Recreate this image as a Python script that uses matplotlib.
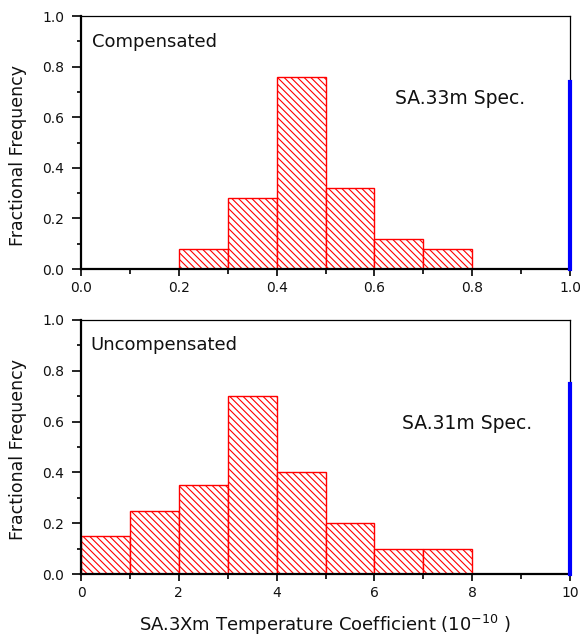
import matplotlib
matplotlib.use("Agg")
import matplotlib.pyplot as plt
from matplotlib.ticker import MultipleLocator

plt.rcParams['font.family'] = ['DejaVu Sans']
plt.rcParams['hatch.linewidth'] = 0.8

# Top panel (compensated)
comp_edges = [0.2, 0.3, 0.4, 0.5, 0.6, 0.7]
comp_width = 0.1
comp_values = [0.08, 0.28, 0.76, 0.32, 0.12, 0.08]
comp_spec_x = 1.0
comp_spec_h = 0.74

# Bottom panel (uncompensated)
unc_edges = [0, 1, 2, 3, 4, 5, 6, 7]
unc_width = 1.0
unc_values = [0.15, 0.25, 0.35, 0.70, 0.40, 0.20, 0.10, 0.10]
unc_spec_x = 10.0
unc_spec_h = 0.75

fig = plt.figure(figsize=(5.8, 6.39), dpi=100)
W, H = 580, 639
ax1 = fig.add_axes([81 / W, 1 - 269 / H, 489 / W, 253 / H])
ax2 = fig.add_axes([81 / W, 1 - 574 / H, 489 / W, 254 / H])


def style(ax, xmax, xmajor, xminor, fmt, ylabel_y):
    ax.set_xlim(0, xmax)
    ax.set_ylim(0, 1.0)
    ax.xaxis.set_major_locator(MultipleLocator(xmajor))
    ax.xaxis.set_minor_locator(MultipleLocator(xminor))
    ax.yaxis.set_major_locator(MultipleLocator(0.2))
    ax.yaxis.set_minor_locator(MultipleLocator(0.1))
    ax.xaxis.set_major_formatter(fmt)
    ax.yaxis.set_major_formatter(lambda v, p: f"{v:.1f}")
    ax.tick_params(which='both', direction='out', labelsize=10, width=1.2,
                   top=False, right=False, colors='black', labelcolor='#111111')
    ax.tick_params(axis='x', which='major', length=5.0, pad=3.5)
    ax.tick_params(axis='y', which='major', length=6.5, pad=5.5)
    ax.tick_params(axis='x', which='minor', length=3.4)
    ax.tick_params(axis='y', which='minor', length=3.1)
    for s in ['left', 'bottom']:
        ax.spines[s].set_linewidth(1.6)
    for s in ['top', 'right']:
        ax.spines[s].set_linewidth(0.9)
    ax.set_ylabel('Fractional Frequency', fontsize=12.5, color='#111111')
    ax.yaxis.label.set_va('center')
    ax.yaxis.set_label_coords(-0.129, ylabel_y)


ax1.bar(comp_edges, comp_values, width=comp_width, align='edge',
        facecolor='white', edgecolor='red', linewidth=1.0, hatch='\\\\\\\\\\', zorder=2)
ax1.plot([comp_spec_x, comp_spec_x], [0, comp_spec_h], color='blue', lw=3, zorder=3, clip_on=False)
style(ax1, 1.0, 0.2, 0.1, lambda v, p: f"{v:.1f}", 0.447)
ax1.text(0.0225, 0.897, 'Compensated', fontsize=13, transform=ax1.transAxes, va='center', color='#111111')
ax1.text(0.642, 0.672, 'SA.33m Spec.', fontsize=13.5, va='center', color='#111111')

ax2.bar(unc_edges, unc_values, width=unc_width, align='edge',
        facecolor='white', edgecolor='red', linewidth=1.0, hatch='\\\\\\\\\\', zorder=2)
ax2.plot([unc_spec_x, unc_spec_x], [0, unc_spec_h], color='blue', lw=3, zorder=3, clip_on=False)
style(ax2, 10.0, 2, 1, lambda v, p: f"{v:.0f}", 0.492)
ax2.text(0.0198, 0.9016, 'Uncompensated', fontsize=13, transform=ax2.transAxes, va='center', color='#111111')
ax2.text(6.57, 0.5906, 'SA.31m Spec.', fontsize=13.5, va='center', color='#111111')
ax2.set_xlabel('SA.3Xm Temperature Coefficient (10$^{-10}$ )', fontsize=13, color='#111111')
ax2.xaxis.set_label_coords(0.5, -0.2)
ax2.xaxis.label.set_va('center')

fig.savefig('out.png', dpi=100)
